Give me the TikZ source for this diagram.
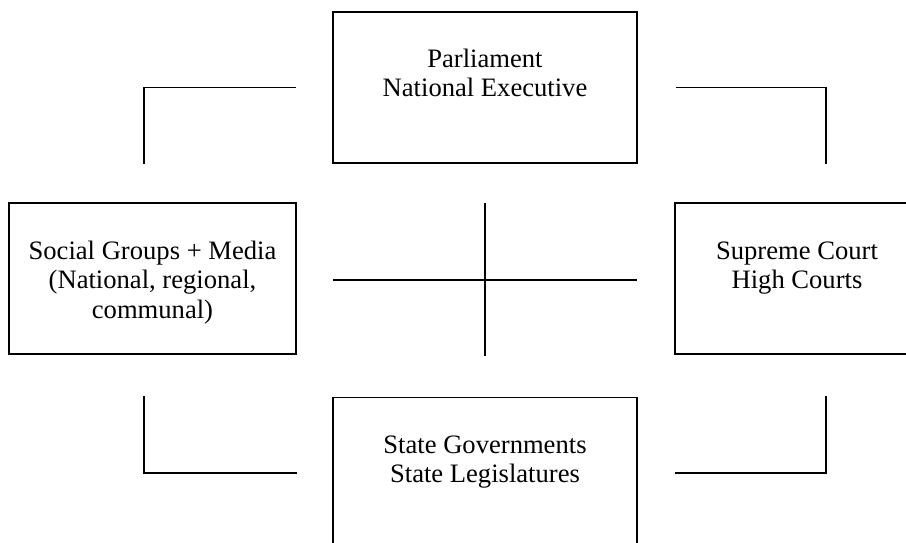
\documentclass[tikz,border=0pt]{standalone}
\usepackage{fontspec}
\setmainfont{Liberation Serif}
\usetikzlibrary{positioning}

\begin{document}
\begin{tikzpicture}[x=1pt,y=-1pt,line width=1.6pt,
    box/.style={draw,line width=1.6pt,minimum width=304pt,minimum height=151pt,inner sep=0pt},
    lbl/.style={align=center,anchor=base,inner sep=0pt,font=\fontsize{26.6}{29.5}\selectfont}]
        \clip (0,0) rectangle (906,542);
        \node[box] (parl) at (485,87.5) {};
        \node[box,minimum width=287pt] (social) at (152.5,278.5) {};
        \node[box,minimum width=244pt] (court) at (797,278.5) {};
        \node[box] (state) [below=233pt of parl.south,anchor=north] {};
        % texts (base is the last line)
        \node[lbl] (parl_t) at ([yshift=-85.5pt]parl.north) {Parliament\\National Executive};
        \node[lbl] (social_t) at ([yshift=-116pt]social.north) {Social Groups + Media\\(National, regional,\\communal)};
        \node[lbl] (court_t) at ([yshift=-86.5pt]court.north) {Supreme Court\\High Courts};
        \node[lbl] (state_t) at ([yshift=-86pt]state.north) {State Governments\\State Legislatures};
        % elbow ends
        \coordinate (tl) at ([xshift=-36pt]parl.west);
        \coordinate (tl_e) at (144,164);
        \coordinate (tr) at ([xshift=38pt]parl.east);
        \coordinate (tr_e) at (826,164);
        \coordinate (bl) at (144,396);
        \coordinate (bl_e) at (297,473);
        \coordinate (br) at (826,396);
        \coordinate (br_e) at (675,473);
        % cross
        \coordinate (c_w) at (333,280);
        \coordinate (c_e) at (637,280);
        \coordinate (c_n) at (485,203);
        \coordinate (c_s) at (485,356);
        \draw (tl) -| (tl_e);
        \draw (tr) -| (tr_e);
        \draw (bl) |- (bl_e);
        \draw (br) |- (br_e);
        \draw (c_w) -- (c_e);
        \draw (c_n) -- (c_s);
\end{tikzpicture}
\end{document}
